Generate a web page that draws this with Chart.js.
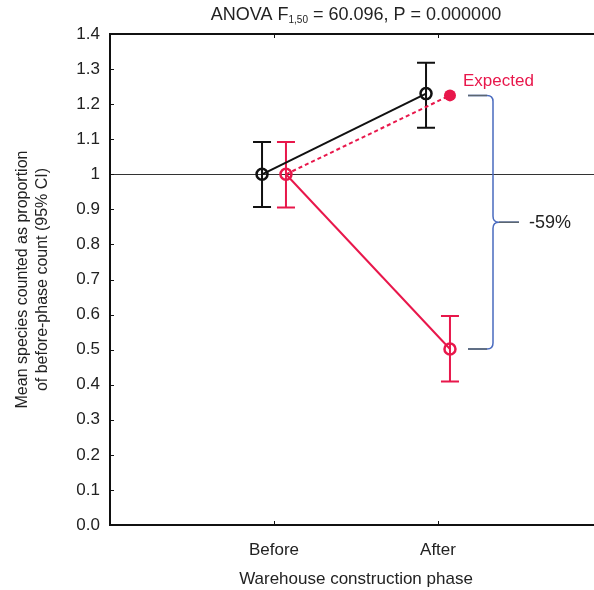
<!DOCTYPE html>
<html>
<head>
<meta charset="utf-8">
<script src="https://cdn.jsdelivr.net/npm/chart.js@4.4.1/dist/chart.umd.min.js"></script>
<style>
  html, body { margin: 0; padding: 0; overflow: hidden; background: #fff; }
  #wrap { width: 620px; height: 590px; }
</style>
</head>
<body>
<div id="wrap"><canvas id="c" width="620" height="590"></canvas></div>
<script>
// Phases on the x axis
const phases = ['Before', 'After'];
// Control group: mean proportion and 95% CI
const controlMean = [1.0, 1.23];
const controlLow  = [0.907, 1.133];
const controlHigh = [1.092, 1.318];
// Warehouse site: mean proportion and 95% CI
const siteMean = [1.0, 0.502];
const siteLow  = [0.905, 0.409];
const siteHigh = [1.092, 0.596];
// Expected after-phase value for the site
const expectedAfter = 1.225;
// Y tick labels
const yTickLabels = ['0.0','0.1','0.2','0.3','0.4','0.5','0.6','0.7','0.8','0.9','1','1.1','1.2','1.3','1.4'];

const RED = '#e8174b';
const BLACK = '#111111';
const FONT = '"Liberation Sans", Arial, sans-serif';
const DODGE = 0.073;

const controlPts = phases.map((p, i) => ({ x: i + 1 - DODGE, y: controlMean[i] }));
const sitePts = phases.map((p, i) => ({ x: i + 1 + DODGE, y: siteMean[i] }));
const expectedPts = [
  { x: 1 + DODGE, y: siteMean[0] },
  { x: 2 + DODGE, y: expectedAfter }
];

const decor = {
  id: 'decor',
  beforeDatasetsDraw(chart) {
    const { ctx, chartArea: a, scales: { x, y } } = chart;
    ctx.save();
    // reference line at 1
    ctx.strokeStyle = '#333';
    ctx.lineWidth = 1;
    const y1 = Math.round(y.getPixelForValue(1)) + 0.5;
    ctx.beginPath(); ctx.moveTo(a.left, y1); ctx.lineTo(a.right, y1); ctx.stroke();

    // confidence intervals
    const bars = (pts, lo, hi, color) => {
      ctx.strokeStyle = color; ctx.lineWidth = 2;
      pts.forEach((p, i) => {
        const px = x.getPixelForValue(p.x);
        const yl = y.getPixelForValue(lo[i]);
        const yh = y.getPixelForValue(hi[i]);
        ctx.beginPath();
        ctx.moveTo(px, yl); ctx.lineTo(px, yh);
        ctx.moveTo(px - 9, yl); ctx.lineTo(px + 9, yl);
        ctx.moveTo(px - 9, yh); ctx.lineTo(px + 9, yh);
        ctx.stroke();
      });
    };
    bars(controlPts, controlLow, controlHigh, BLACK);
    bars(sitePts, siteLow, siteHigh, RED);
    ctx.restore();
  },
  afterDraw(chart) {
    const { ctx, chartArea: a, scales: { x, y } } = chart;
    ctx.save();
    // frame: top, left and bottom
    ctx.strokeStyle = '#111';
    ctx.lineWidth = 2;
    ctx.beginPath();
    ctx.moveTo(a.right + 20, a.top); ctx.lineTo(a.left, a.top);
    ctx.lineTo(a.left, a.bottom); ctx.lineTo(a.right + 20, a.bottom);
    ctx.stroke();
    // inward ticks
    ctx.lineWidth = 1;
    ctx.beginPath();
    for (let v = 0; v <= 14; v++) {
      const py = Math.round(y.getPixelForValue(v / 10)) + 0.5;
      ctx.moveTo(a.left, py); ctx.lineTo(a.left + 4, py);
    }
    phases.forEach((p, i) => {
      const px = Math.round(x.getPixelForValue(i + 1)) + 0.5;
      ctx.moveTo(px, a.top); ctx.lineTo(px, a.top + 4);
      ctx.moveTo(px, a.bottom); ctx.lineTo(px, a.bottom - 4);
    });
    ctx.stroke();

    // title with subscript
    const parts = [
      { t: 'ANOVA F', f: '18px ' + FONT, dy: 0 },
      { t: '1,50', f: '10px ' + FONT, dy: 5 },
      { t: ' = 60.096, P = 0.000000', f: '18px ' + FONT, dy: 0 }
    ];
    let total = 0;
    parts.forEach(p => { ctx.font = p.f; total += ctx.measureText(p.t).width; });
    let tx = (a.left + a.right) / 2 - total / 2;
    ctx.fillStyle = '#222';
    ctx.textBaseline = 'middle';
    ctx.textAlign = 'left';
    parts.forEach(p => {
      ctx.font = p.f;
      ctx.fillText(p.t, tx, 15 + p.dy);
      tx += ctx.measureText(p.t).width;
    });

    // "Expected" label
    const ex = x.getPixelForValue(2 + DODGE);
    const ey = y.getPixelForValue(expectedAfter);
    ctx.font = '17px ' + FONT;
    ctx.fillStyle = RED;
    ctx.fillText('Expected', ex + 13, ey - 14);

    // brace between expected and observed after-phase values
    const bx = x.getPixelForValue(2) + 55;
    const yTop = ey;
    const yBot = y.getPixelForValue(siteMean[1]);
    const yMid = (yTop + yBot) / 2;
    const r = 6;
    ctx.lineWidth = 1.5;
    ctx.strokeStyle = '#4a6bbf';
    ctx.beginPath();
    ctx.moveTo(bx - 25, yTop);
    ctx.lineTo(bx - r, yTop);
    ctx.quadraticCurveTo(bx, yTop, bx, yTop + r);
    ctx.lineTo(bx, yMid - r);
    ctx.quadraticCurveTo(bx, yMid, bx + r, yMid);
    ctx.lineTo(bx + 26, yMid);
    ctx.moveTo(bx + r, yMid);
    ctx.quadraticCurveTo(bx, yMid, bx, yMid + r);
    ctx.lineTo(bx, yBot - r);
    ctx.quadraticCurveTo(bx, yBot, bx - r, yBot);
    ctx.lineTo(bx - 25, yBot);
    ctx.stroke();
    // horizontal arms in grey
    ctx.strokeStyle = '#5b6670';
    ctx.beginPath();
    ctx.moveTo(bx - 25, yTop); ctx.lineTo(bx - r, yTop);
    ctx.moveTo(bx + r, yMid); ctx.lineTo(bx + 26, yMid);
    ctx.moveTo(bx - 25, yBot); ctx.lineTo(bx - r, yBot);
    ctx.stroke();

    const pct = Math.round((siteMean[1] / expectedAfter - 1) * 100);
    ctx.font = '18px ' + FONT;
    ctx.fillStyle = '#222';
    ctx.fillText(pct + '%', bx + 36, yMid + 1);
    ctx.restore();
  }
};

new Chart(document.getElementById('c'), {
  type: 'scatter',
  data: {
    datasets: [
      {
        data: controlPts, showLine: true, borderColor: BLACK, borderWidth: 2,
        pointRadius: 5.5, pointBorderWidth: 2.5, pointBackgroundColor: 'rgba(0,0,0,0)',
        pointBorderColor: BLACK
      },
      {
        data: sitePts, showLine: true, borderColor: RED, borderWidth: 2,
        pointRadius: 5.5, pointBorderWidth: 2.5, pointBackgroundColor: 'rgba(0,0,0,0)',
        pointBorderColor: RED
      },
      {
        data: expectedPts, showLine: true, borderColor: RED, borderWidth: 2,
        borderDash: [4, 3],
        pointRadius: [0, 6], pointBorderWidth: 0, pointBackgroundColor: RED,
        pointBorderColor: RED
      }
    ]
  },
  plugins: [decor],
  options: {
    responsive: false,
    animation: false,
    layout: { padding: { top: 34, right: 18, left: 0, bottom: 0 } },
    plugins: { legend: { display: false }, tooltip: { enabled: false } },
    scales: {
      x: {
        type: 'linear', min: 0, max: 3,
        afterBuildTicks(s) { s.ticks = phases.map((p, i) => ({ value: i + 1 })); },
        afterFit(s) { s.height = 65; },
        grid: { display: false },
        border: { display: false },
        ticks: {
          padding: 7, color: '#222', font: { family: FONT, size: 17 },
          callback: (v) => phases[v - 1] || ''
        },
        title: {
          display: true, text: 'Warehouse construction phase', color: '#222',
          font: { family: FONT, size: 17 }, padding: { top: 4, bottom: 0 }
        }
      },
      y: {
        min: 0, max: 1.4,
        afterBuildTicks(s) { s.ticks = yTickLabels.map((t, i) => ({ value: i / 10 })); },
        afterFit(s) { s.width = 110; },
        grid: { display: false },
        border: { display: false },
        ticks: {
          padding: 2, color: '#222', font: { family: FONT, size: 17 },
          callback: (v) => yTickLabels[Math.round(v * 10)]
        },
        title: {
          display: true,
          text: ['Mean species counted as proportion', 'of before-phase count (95% CI)'],
          color: '#222', font: { family: FONT, size: 16, lineHeight: 1.25 }, padding: { top: 13 }
        }
      }
    }
  }
});
</script>
</body>
</html>
